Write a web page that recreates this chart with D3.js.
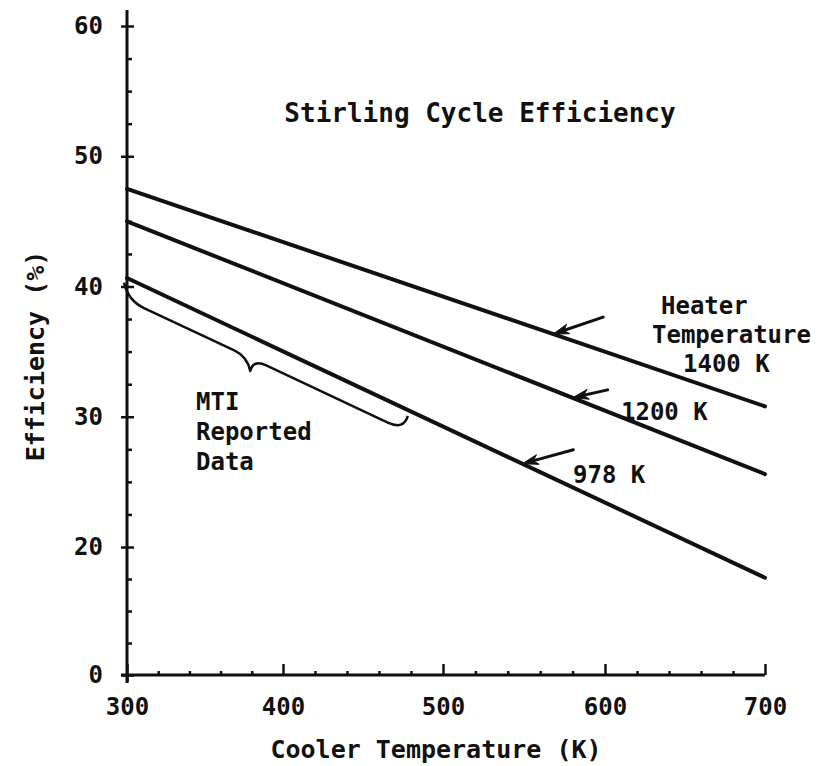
<!DOCTYPE html>
<html>
<head>
<meta charset="utf-8">
<script src="https://cdn.jsdelivr.net/npm/d3@7"></script>
<style>
  html, body { margin: 0; padding: 0; background: #fff; }
  svg text { font-family: "DejaVu Sans Mono", "Liberation Mono", monospace; font-weight: bold; fill: #111; }
</style>
</head>
<body>
<svg id="chart" width="824" height="766"></svg>
<script>
// ---- data ----
const coolerTemps = [300, 700];                 // x (K)
const heaterLabels = ["1400 K", "1200 K", "978 K"];
const eff1400 = [47.5, 30.8];                   // efficiency (%)
const eff1200 = [45.0, 25.6];
const eff978  = [40.65, 15.2];
const xTickValues = [300, 400, 500, 600, 700];
const yTickValues = [0, 20, 30, 40, 50, 60];
const xMinorTicks = d3.range(300, 701, 20);
const yMinorTicks = [5, 10, 15].concat(d3.range(20, 60.1, 2.5));

const svg = d3.select("#chart");
const ink = "#111";

// piecewise scales (hand-drawn original has a compressed 0-20 segment)
const x = d3.scaleLinear().domain([300, 400, 500, 600, 700]).range([127, 283, 443, 605, 765]);
const y = d3.scaleLinear().domain([0, 20, 60]).range([675, 547, 26]);

const x0 = x(300), yBase = y(0);

// ---- axes ----
// spines
svg.append("line").attr("x1", x0).attr("x2", x0).attr("y1", 10).attr("y2", yBase + 8)
  .attr("stroke", ink).attr("stroke-width", 3);
svg.append("line").attr("x1", x0 - 6).attr("x2", x(700)).attr("y1", yBase).attr("y2", yBase)
  .attr("stroke", ink).attr("stroke-width", 3);

// y major ticks (cross the axis)
const yAxis = svg.append("g").attr("transform", `translate(${x0},0)`)
  .call(d3.axisLeft(y).tickValues(yTickValues).tickSize(6).tickSizeOuter(0).tickPadding(18).tickFormat(d3.format("d")));
yAxis.select(".domain").remove();
yAxis.selectAll(".tick line").attr("x1", 7).attr("stroke", ink).attr("stroke-width", 2.5);
yAxis.selectAll(".tick text").attr("font-size", 24).attr("fill", ink);

// y minor ticks
const yMinor = svg.append("g").attr("transform", `translate(${x0},0)`)
  .call(d3.axisRight(y).tickValues(yMinorTicks.filter(v => !yTickValues.includes(v))).tickSize(5).tickFormat(""));
yMinor.select(".domain").remove();
yMinor.selectAll(".tick line").attr("stroke", ink).attr("stroke-width", 2.5);

// x minor ticks
const xMinor = svg.append("g").attr("transform", `translate(0,${yBase})`)
  .call(d3.axisBottom(x).tickValues(xMinorTicks.filter(v => !xTickValues.includes(v))).tickSize(-4).tickFormat(""));
xMinor.select(".domain").remove();
xMinor.selectAll(".tick line").attr("stroke", ink).attr("stroke-width", 2.5);

// x major ticks + labels
const xAxis = svg.append("g").attr("transform", `translate(0,${yBase})`)
  .call(d3.axisBottom(x).tickValues(xTickValues).tickSize(-11).tickSizeOuter(0).tickFormat(d3.format("d")));
xAxis.select(".domain").remove();
xAxis.selectAll(".tick line").attr("stroke", ink).attr("stroke-width", 2.5)
  .attr("y1", d => d === 300 ? 7 : 0);
xAxis.selectAll(".tick text").attr("font-size", 24).attr("fill", ink).attr("dy", null).attr("y", 40);

// axis titles
svg.append("text").attr("x", 436).attr("y", 758).attr("text-anchor", "middle")
  .attr("font-size", 25).text("Cooler Temperature (K)");
svg.append("text").attr("transform", "translate(44,356) rotate(-90)").attr("text-anchor", "middle")
  .attr("font-size", 25).text("Efficiency (%)");

// title
svg.append("text").attr("x", 480).attr("y", 122).attr("text-anchor", "middle")
  .attr("font-size", 26).text("Stirling Cycle Efficiency");

// ---- lines ----
const series = [eff1400, eff1200, eff978];
const line = d3.line().x(d => x(d[0])).y(d => y(d[1]));
series.forEach(vals => {
  svg.append("path").datum(coolerTemps.map((t, i) => [t, vals[i]]))
    .attr("d", line).attr("fill", "none").attr("stroke", ink).attr("stroke-width", 4)
    .attr("stroke-linecap", "round");
});

// pixel position along a drawn (straight) series line
function lineY(vals, xp) {
  const xa = x(coolerTemps[0]), xb = x(coolerTemps[1]);
  const ya = y(vals[0]), yb = y(vals[1]);
  return ya + (yb - ya) * (xp - xa) / (xb - xa);
}

// ---- arrows ----
function arrow(vals, xd, dx, dy) {
  const tx = x(xd), ty = lineY(vals, tx);
  const sx = tx + dx, sy = ty + dy;
  const ang = Math.atan2(ty - sy, tx - sx);
  svg.append("line").attr("x1", sx).attr("y1", sy).attr("x2", tx + Math.cos(ang) * -8).attr("y2", ty + Math.sin(ang) * -8)
    .attr("stroke", ink).attr("stroke-width", 3).attr("stroke-linecap", "round");
  const L = 16, W = 5;
  const bx = tx - Math.cos(ang) * L, by = ty - Math.sin(ang) * L;
  const nx = -Math.sin(ang), ny = Math.cos(ang);
  const nxp = tx - Math.cos(ang) * (L * 0.7), nyp = ty - Math.sin(ang) * (L * 0.7);
  svg.append("path")
    .attr("d", `M${tx},${ty} L${bx + nx * W},${by + ny * W} L${nxp},${nyp} L${bx - nx * W},${by - ny * W} Z`)
    .attr("fill", ink).attr("stroke", ink).attr("stroke-width", 1);
}
arrow(eff1400, 568, 50, -17);
arrow(eff1200, 580, 35, -8);
arrow(eff978, 549, 51, -14);

// ---- labels ----
function label(txt, xp, yp) {
  svg.append("text").attr("x", xp).attr("y", yp).attr("font-size", 24).text(txt);
}
label("Heater", 661, 314);
label("Temperature", 652, 343);
label(heaterLabels[0], 683, 372);
label(heaterLabels[1], 621, 420);
label(heaterLabels[2], 573, 483);
label("MTI", 196, 410);
label("Reported", 196, 440);
label("Data", 196, 470);

// ---- MTI brace along the 978 K line ----
(function () {
  const xs = x(300) - 3, xc = x(379), xe = x(478);
  const off = 22;
  const p = d3.path();
  p.moveTo(xs, lineY(eff978, xs) + 6);
  p.quadraticCurveTo(xs + 4, lineY(eff978, xs + 4) + off, xs + 20, lineY(eff978, xs + 20) + off);
  p.lineTo(xc - 16, lineY(eff978, xc - 16) + off);
  p.quadraticCurveTo(xc - 3, lineY(eff978, xc - 3) + off, xc, lineY(eff978, xc) + 35);
  p.quadraticCurveTo(xc + 3, lineY(eff978, xc + 3) + off, xc + 16, lineY(eff978, xc + 16) + off);
  p.lineTo(xe - 20, lineY(eff978, xe - 20) + off);
  p.quadraticCurveTo(xe - 4, lineY(eff978, xe - 4) + off, xe, lineY(eff978, xe) + 6);
  svg.append("path").attr("d", p.toString()).attr("fill", "none").attr("stroke", ink)
    .attr("stroke-width", 2.5).attr("stroke-linejoin", "round");
})();
</script>
</body>
</html>
